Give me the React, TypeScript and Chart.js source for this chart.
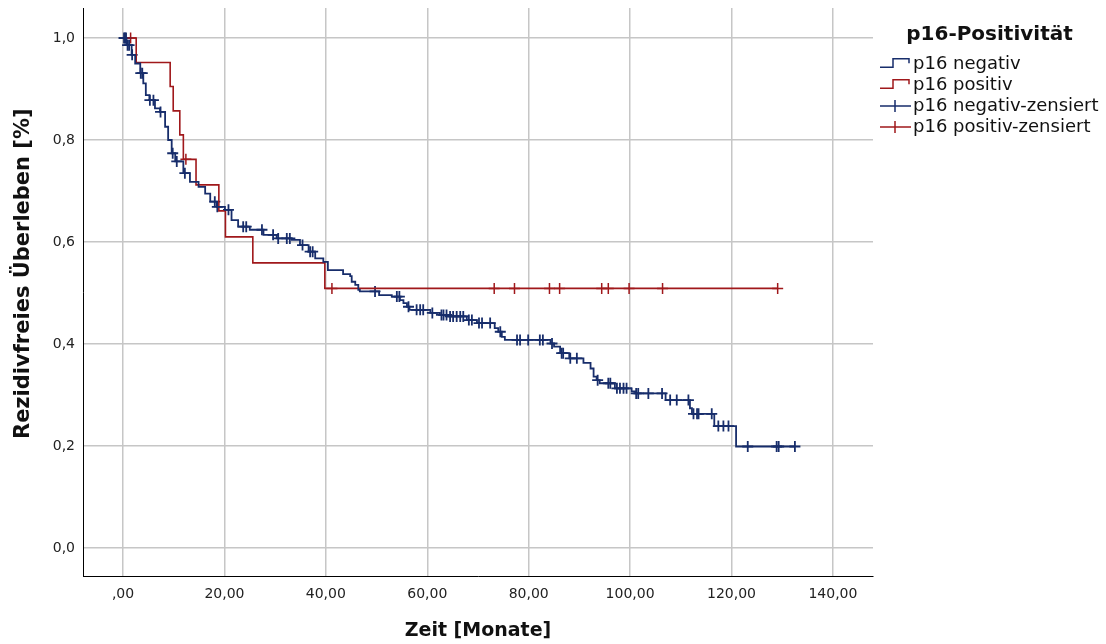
import React, { useEffect, useRef } from 'react';
import { Chart, registerables } from 'chart.js';

Chart.register(...registerables);

// ---- Data ----
// p16 negativ: Kaplan-Meier steps (time in months, survival after the drop)
const negTimes = [0, 0.7, 1.7, 2.4, 3.4, 4.0, 4.5, 5.2, 6.3, 7.3, 8.3, 8.9, 9.6, 10.3, 11.9, 13.2, 14.9, 16.2, 17.2, 18.5, 20.1, 21.4, 22.7, 25.0, 27.7, 30.3, 33.3, 34.9, 36.6, 37.9, 39.5, 40.4, 43.4, 44.8, 45.1, 45.8, 46.4, 46.7, 50.5, 53.0, 54.6, 55.3, 56.0, 56.5, 60.6, 62.5, 64.0, 67.8, 69.8, 73.3, 74.0, 74.7, 75.3, 84.3, 85.0, 86.2, 88.0, 90.8, 92.2, 92.8, 93.4, 94.0, 97.0, 100.3, 101.0, 107.0, 111.8, 112.2, 116.6, 120.9, 132.5];
const negSurv = [1.0, 0.986, 0.967, 0.95, 0.931, 0.911, 0.888, 0.878, 0.862, 0.855, 0.826, 0.8, 0.774, 0.758, 0.735, 0.718, 0.708, 0.695, 0.679, 0.669, 0.663, 0.643, 0.63, 0.624, 0.614, 0.607, 0.604, 0.594, 0.581, 0.568, 0.561, 0.545, 0.537, 0.533, 0.522, 0.516, 0.506, 0.503, 0.496, 0.493, 0.486, 0.48, 0.473, 0.467, 0.461, 0.457, 0.454, 0.447, 0.441, 0.431, 0.424, 0.414, 0.408, 0.401, 0.395, 0.382, 0.372, 0.363, 0.352, 0.336, 0.329, 0.323, 0.313, 0.307, 0.303, 0.29, 0.274, 0.263, 0.239, 0.199, 0.199];
const negCensorTimes = [0.2, 0.4, 0.6, 0.9, 1.2, 1.8, 3.5, 3.8, 5.3, 6.0, 7.4, 9.8, 10.6, 12.2, 18.1, 18.6, 20.8, 23.7, 24.3, 27.4, 29.6, 30.6, 32.3, 32.9, 35.4, 36.9, 37.4, 49.7, 54.0, 54.5, 56.3, 57.9, 58.6, 59.2, 61.0, 62.8, 63.2, 63.8, 64.5, 65.1, 65.8, 66.5, 67.1, 68.2, 68.8, 70.2, 70.8, 72.4, 74.4, 77.7, 78.3, 79.9, 82.2, 82.8, 84.6, 86.5, 86.8, 88.2, 89.5, 93.6, 95.7, 96.1, 97.4, 98.0, 98.7, 99.3, 101.2, 101.6, 103.6, 106.3, 107.9, 109.2, 111.5, 112.5, 113.2, 113.5, 116.1, 117.4, 118.4, 119.4, 123.2, 128.9, 129.3, 132.5];

// p16 positiv
const posTimes = [0, 2.6, 9.3, 9.9, 11.2, 11.9, 14.4, 18.9, 20.2, 25.6, 39.8, 129.1];
const posSurv = [1.0, 0.952, 0.905, 0.857, 0.81, 0.762, 0.712, 0.661, 0.61, 0.559, 0.509, 0.509];
const posCensorTimes = [1.5, 12.4, 41.2, 73.2, 77.2, 84.1, 86.1, 94.4, 95.7, 99.8, 106.4, 129.1];

const xTicks = [0, 20, 40, 60, 80, 100, 120, 140];
const yTicks = [0, 0.2, 0.4, 0.6, 0.8, 1.0];

const legendTitle = 'p16-Positivität';
const seriesLabels = ['p16 negativ', 'p16 positiv', 'p16 negativ-zensiert', 'p16 positiv-zensiert'];
const xTitle = 'Zeit [Monate]';
const yTitle = 'Rezidivfreies Überleben [%]';

const BLUE = '#172d6b';
const RED = '#a0181b';

function stepValue(times: number[], surv: number[], t: number) {
  let s = surv[0];
  for (let i = 0; i < times.length; i++) {
    if (times[i] <= t) s = surv[i];
  }
  return s;
}

function makeStepIcon(color: string) {
  const c = document.createElement('canvas');
  c.width = 42;
  c.height = 18;
  const ctx = c.getContext('2d')!;
  ctx.strokeStyle = color;
  ctx.lineWidth = 1.5;
  ctx.beginPath();
  ctx.moveTo(11, 12.2);
  ctx.lineTo(24, 12.2);
  ctx.lineTo(24, 3.8);
  ctx.lineTo(40, 3.8);
  ctx.lineTo(40, 8.2);
  ctx.stroke();
  return c;
}

function makeCrossIcon(color: string) {
  const c = document.createElement('canvas');
  c.width = 42;
  c.height = 18;
  const ctx = c.getContext('2d')!;
  ctx.strokeStyle = color;
  ctx.lineWidth = 1.5;
  ctx.beginPath();
  ctx.moveTo(11, 9);
  ctx.lineTo(42, 9);
  ctx.moveTo(26, 3);
  ctx.lineTo(26, 15);
  ctx.stroke();
  return c;
}

export default function App() {
  const ref = useRef<HTMLCanvasElement | null>(null);

  useEffect(() => {
    if (!ref.current) return;
    const icons = [makeStepIcon(BLUE), makeStepIcon(RED), makeCrossIcon(BLUE), makeCrossIcon(RED)];
    const colors = [BLUE, RED, BLUE, RED];

    const fixLegend = {
      id: 'fixLegend',
      beforeLayout(chart: any) {
        const lg = chart.legend;
        if (lg && !lg._patched) {
          const orig = lg.fit.bind(lg);
          lg.fit = function () {
            orig();
            this.width = 233;
          };
          lg._patched = true;
        }
      },
    };

    const chart = new Chart(ref.current, {
      type: 'line',
      data: {
        datasets: [
          {
            label: seriesLabels[0],
            data: negTimes.map((t, i) => ({ x: t, y: negSurv[i] })),
            borderColor: BLUE,
            borderWidth: 1.8,
            stepped: 'before',
            pointRadius: 0,
            fill: false,
          },
          {
            label: seriesLabels[1],
            data: posTimes.map((t, i) => ({ x: t, y: posSurv[i] })),
            borderColor: RED,
            borderWidth: 1.6,
            stepped: 'before',
            pointRadius: 0,
            fill: false,
          },
          {
            label: seriesLabels[2],
            data: negCensorTimes.map((t) => ({ x: t, y: stepValue(negTimes, negSurv, t) })),
            showLine: false,
            pointStyle: 'cross',
            pointRadius: 5.5,
            pointBorderColor: BLUE,
            pointBorderWidth: 1.8,
            borderColor: BLUE,
          },
          {
            label: seriesLabels[3],
            data: posCensorTimes.map((t) => ({ x: t, y: stepValue(posTimes, posSurv, t) })),
            showLine: false,
            pointStyle: 'cross',
            pointRadius: 5.5,
            pointBorderColor: RED,
            pointBorderWidth: 1.5,
            borderColor: RED,
          },
        ],
      } as any,
      options: {
        animation: false,
        responsive: false,
        events: [],
        layout: { padding: { top: 8, right: 0, bottom: 0, left: 0 } },
        plugins: {
          tooltip: { enabled: false },
          legend: {
            position: 'right',
            align: 'start',
            title: {
              display: true,
              text: legendTitle,
              color: '#111',
              font: { family: 'DejaVu Sans', weight: 'bold', size: 20 },
              padding: { top: 17, bottom: 3 },
            },
            labels: {
              usePointStyle: true,
              pointStyleWidth: 28,
              padding: 3,
              color: '#111',
              font: { family: 'DejaVu Sans', size: 18 },
              generateLabels: () =>
                seriesLabels.map((text, i) => ({
                  text,
                  pointStyle: icons[i],
                  fillStyle: colors[i],
                  strokeStyle: colors[i],
                  lineWidth: 1.5,
                  hidden: false,
                  datasetIndex: i,
                  fontColor: '#111',
                })),
            },
          },
        },
        scales: {
          x: {
            type: 'linear',
            min: -7.89,
            max: 147.9,
            afterBuildTicks: (s: any) => {
              s.ticks = xTicks.map((v) => ({ value: v }));
            },
            afterFit: (s: any) => {
              s.height = 68;
              s.paddingLeft = 0;
              s.paddingRight = 0;
            },
            ticks: {
              autoSkip: false,
              maxRotation: 0,
              padding: 10,
              color: '#222',
              font: { family: 'DejaVu Sans', size: 14 },
              callback: (v: any) => (Number(v) === 0 ? ',00' : Number(v).toFixed(2).replace('.', ',')),
            },
            grid: { color: '#c6c6c6', lineWidth: 1.5, drawTicks: false },
            border: { display: true, color: '#000', width: 1 },
            title: {
              display: true,
              text: xTitle,
              color: '#111',
              font: { family: 'DejaVu Sans', weight: 'bold', size: 19 },
              padding: { top: 0, bottom: 2 },
            },
          },
          y: {
            type: 'linear',
            min: -0.0549,
            max: 1.0588,
            afterBuildTicks: (s: any) => {
              s.ticks = yTicks.map((v) => ({ value: v }));
            },
            afterFit: (s: any) => {
              s.width = 83;
              s.paddingTop = 0;
              s.paddingBottom = 0;
            },
            ticks: {
              padding: 8,
              color: '#222',
              font: { family: 'DejaVu Sans', size: 14 },
              callback: (v: any) => Number(v).toFixed(1).replace('.', ','),
            },
            grid: { color: '#c6c6c6', lineWidth: 1.5, drawTicks: false },
            border: { display: true, color: '#000', width: 1 },
            title: {
              display: true,
              text: '     ' + yTitle,
              color: '#111',
              font: { family: 'DejaVu Sans', weight: 'bold', size: 21 },
              padding: { top: 11, bottom: 0 },
            },
          },
        },
      } as any,
      plugins: [fixLegend],
    });
    return () => chart.destroy();
  }, []);

  return (
    <div style={{ position: 'absolute', left: 0, top: 0, width: 1106, height: 644, background: '#fff' }}>
      <canvas ref={ref} width={1106} height={644} style={{ display: 'block' }} />
    </div>
  );
}
